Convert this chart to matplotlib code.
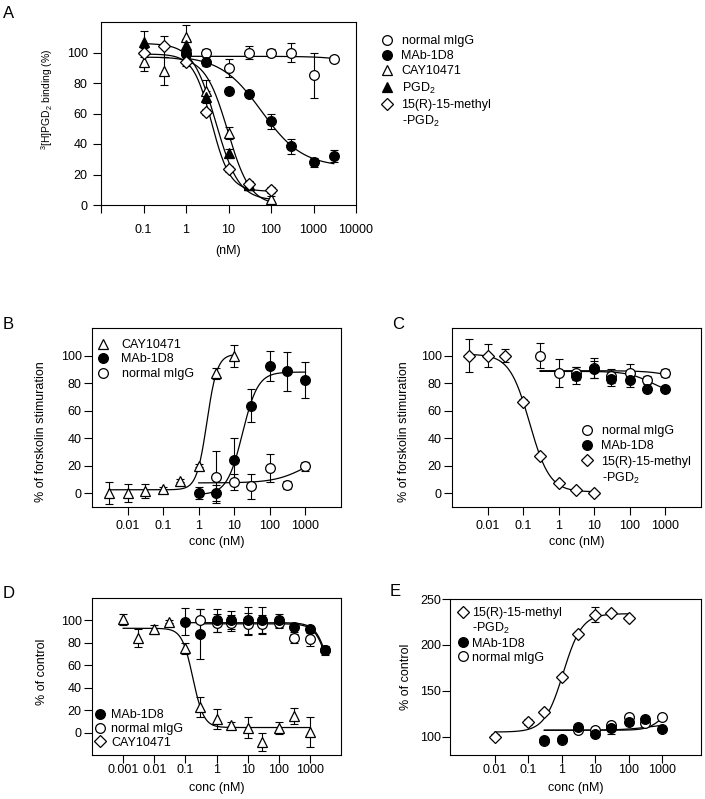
import numpy as np
import matplotlib.pyplot as plt
from matplotlib.lines import Line2D
from matplotlib.ticker import NullLocator

plt.rcParams['font.family'] = ['Liberation Sans', 'DejaVu Sans']
plt.rcParams['mathtext.fontset'] = 'custom'
plt.rcParams['mathtext.rm'] = 'Liberation Sans'
plt.rcParams['mathtext.it'] = 'Liberation Sans:italic'
plt.rcParams['mathtext.default'] = 'regular'

# ---- panel A: 3H-PGD2 binding ----
a_x_igg = [1, 3, 10, 30, 100, 300, 1000, 3000]
a_y_igg = [100, 100, 90, 100, 100, 100, 85, 96]
a_e_igg = [3, 2, 6, 4, 2, 6, 15, 2]
a_x_mab = [1, 3, 10, 30, 100, 300, 1000, 3000]
a_y_mab = [99, 94, 75, 72.5, 55, 38.5, 28, 32]
a_e_mab = [2, 3, 2, 2, 5, 5, 3, 4]
a_x_cay = [0.1, 0.3, 1, 3, 10, 30, 100]
a_y_cay = [94, 88, 110, 75, 47, 13, 4]
a_e_cay = [6, 9, 8, 7, 4, 3, 2]
a_x_pgd = [0.1, 1, 3, 10, 30]
a_y_pgd = [107, 105, 71, 34, 13]
a_e_pgd = [7, 4, 4, 3, 2]
a_x_met = [0.1, 0.3, 1, 3, 10, 30, 100]
a_y_met = [100, 104, 94, 61, 23.5, 13.5, 10]
a_e_met = [3, 7, 3, 2, 2, 2, 2]

# ---- panel B: forskolin, agonist ----
b_x_cay = [0.003, 0.01, 0.03, 0.1, 0.3, 1, 3, 10]
b_y_cay = [0, 0, 1.5, 3, 9, 20, 87, 100]
b_e_cay = [8, 6.5, 5, 1.5, 1, 1, 4, 8]
b_x_mab = [1, 3, 10, 30, 100, 300, 1000]
b_y_mab = [0, 0, 24, 63.5, 92.5, 88.5, 82.5]
b_e_mab = [4.5, 6, 16, 12, 11, 14, 13]
b_x_igg = [3, 10, 30, 100, 300, 1000]
b_y_igg = [12, 8, 5, 18.5, 6, 19.5]
b_e_igg = [19, 6, 9, 10, 3, 3]

# ---- panel C ----
c_x_met = [0.003, 0.01, 0.03, 0.1, 0.3, 1, 3, 10]
c_y_met = [100, 100, 100, 66.5, 27, 7.5, 2, 0]
c_e_met = [12, 8.5, 5, 2, 1.5, 1, 1, 1]
c_x_igg = [0.3, 1, 3, 10, 30, 100, 300, 1000]
c_y_igg = [100, 87.5, 87, 91, 85, 87.5, 82, 87.5]
c_e_igg = [9, 10, 5, 7, 5, 6, 3, 3]
c_x_mab = [3, 10, 30, 100, 300, 1000]
c_y_mab = [85.5, 90, 83, 82, 75.5, 76]
c_e_mab = [6, 6, 5, 5, 2, 1.5]

# ---- panel D ----
d_x_cay = [0.001, 0.003, 0.01, 0.03, 0.1, 0.3, 1, 3, 10, 30, 100, 300, 1000]
d_y_cay = [101, 84, 92, 99, 75, 22.5, 12, 7, 4.5, -8.5, 4, 15, 0.5]
d_e_cay = [5, 8, 4, 1.5, 5, 9, 9, 2, 9, 8, 5, 7, 13]
d_x_mab = [0.1, 0.3, 1, 3, 10, 30, 100, 300, 1000, 3000]
d_y_mab = [99, 88, 100, 100, 100, 100, 100, 94, 92.5, 73.5]
d_e_mab = [12, 22, 10, 8, 12, 12, 6, 4, 2, 4]
d_x_igg = [0.3, 1, 3, 10, 30, 100, 300, 1000, 3000]
d_y_igg = [100, 98, 98, 97, 97, 98, 84, 83, 74]
d_e_igg = [10, 8, 7, 10, 8, 5, 4, 6, 3]

# ---- panel E ----
e_x_met = [0.01, 0.1, 0.3, 1, 3, 10, 30, 100]
e_y_met = [100, 116, 126.5, 164.5, 211.5, 233, 235, 229.5]
e_e_met = [3, 3, 2, 2, 2, 8, 2, 2]
e_x_mab = [0.3, 1, 3, 10, 30, 100, 300, 1000]
e_y_mab = [96, 97, 111, 103, 109.5, 116.5, 119.5, 108.5]
e_e_mab = [2, 2, 3, 2, 7, 3, 2, 2]
e_x_igg = [0.3, 1, 3, 10, 30, 100, 300, 1000]
e_y_igg = [95, 96, 107.5, 107.5, 113, 121, 115, 121]
e_e_igg = [2, 2, 2, 2, 3, 2, 2, 3]

# fitted 4PL curves: (value at low conc, value at high conc, EC50, hill), conc range
fits = {
    'a_igg': ((97.5, 0, 2e5, 1), (1, 3000)),
    'a_mab': ((98, 25, 60, 0.9), (1, 3000)),
    'a_cay': ((97, 0, 9.6, 1.64), (0.1, 100)),
    'a_pgd': ((106, 3, 5, 1.6), (0.1, 100)),
    'a_met': ((99, 9, 4, 2), (0.1, 100)),
    'b_cay': ((2.5, 101, 1.7, 3), (0.003, 10)),
    'b_mab': ((-1, 88, 17, 2), (1, 1000)),
    'b_igg': ((7.5, 30, 1000, 1), (1, 1000)),
    'c_met': ((101, 1, 0.152, 1.54), (0.003, 10)),
    'c_igg': ((89, 0, 3e4, 1), (0.3, 1000)),
    'c_mab': ((88.5, 72, 400, 1.3), (0.3, 1000)),
    'd_cay': ((93, 4.5, 0.174, 2.48), (0.001, 1000)),
    'd_mab': ((98, 0, 5000, 2), (0.1, 3000)),
    'd_igg': ((97, 0, 4800, 2), (0.3, 3000)),
    'e_met': ((105, 234, 1.105, 1.56), (0.01, 100)),
    'e_mab': ((107, 115, 500, 1), (0.3, 1000)),
    'e_igg': ((107, 133, 1000, 2), (0.3, 1000)),
}

W, H = 705, 799
fig = plt.figure(figsize=(W / 100, H / 100), dpi=100)

def box(l, t, r, b):
    return [l / W, 1 - b / H, (r - l) / W, (b - t) / H]

def logistic(x, y_lo, y_hi, ec50, hill):
    return y_hi + (y_lo - y_hi) / (1 + (x / ec50) ** hill)

styles = {
    'o_open': dict(marker='o', mfc='white', ms=7),
    'o_fill': dict(marker='o', mfc='black', ms=7),
    't_open': dict(marker='^', mfc='white', ms=7),
    't_fill': dict(marker='^', mfc='black', ms=7),
    'diam': dict(marker='D', mfc='white', ms=5.8),
    'none': dict(marker=None),
}

def series(ax, x, y, err, st, key):
    p, rng = fits[key]
    xs = np.logspace(np.log10(rng[0]), np.log10(rng[1]), 300)
    ax.plot(xs, logistic(xs, *p), color='black', lw=0.9, zorder=2)
    ax.errorbar(x, y, yerr=err, fmt='none', ecolor='black', elinewidth=0.8,
                capsize=3, capthick=0.8, zorder=3)
    ax.plot(x, y, ls='none', mec='black', mew=0.9, zorder=4, **styles[st])

def setup(ax, xlim, ylim, xticks, xlabels, yticks, xpad, ypad):
    ax.set_xscale('log')
    ax.set_xlim(xlim)
    ax.set_ylim(ylim)
    ax.set_xticks(xticks)
    ax.set_xticklabels(xlabels)
    ax.xaxis.set_minor_locator(NullLocator())
    ax.set_yticks(yticks)
    ax.tick_params(direction='out', length=5.5, width=0.8, labelsize=9)
    ax.tick_params(axis='x', pad=xpad)
    ax.tick_params(axis='y', pad=ypad)
    for s in ax.spines.values():
        s.set_linewidth(0.8)

def handle(st):
    return Line2D([], [], ls='none', mec='black', mew=0.9, **styles[st])

def legend(ax, items, x, y, hl, pad, ls):
    ax.legend([handle(s) for s, _ in items], [t for _, t in items],
              loc='upper left', bbox_to_anchor=(x / W, 1 - y / H),
              bbox_transform=fig.transFigure, frameon=False, fontsize=9,
              handlelength=hl, handletextpad=pad, labelspacing=ls,
              borderpad=0, borderaxespad=0, numpoints=1)

pgd2 = 'PGD$_2$'
met = [('diam', '15(R)-15-methyl'), ('none', '-PGD$_2$')]

# A
ax = fig.add_axes(box(101, 22, 356, 205))
series(ax, a_x_igg, a_y_igg, a_e_igg, 'o_open', 'a_igg')
series(ax, a_x_mab, a_y_mab, a_e_mab, 'o_fill', 'a_mab')
series(ax, a_x_cay, a_y_cay, a_e_cay, 't_open', 'a_cay')
series(ax, a_x_pgd, a_y_pgd, a_e_pgd, 't_fill', 'a_pgd')
series(ax, a_x_met, a_y_met, a_e_met, 'diam', 'a_met')
setup(ax, (0.01, 10000), (0, 120), [0.01, 0.1, 1, 10, 100, 1000, 10000],
      ['', '0.1', '1', '10', '100', '1000', '10000'], [0, 20, 40, 60, 80, 100], 8, 4)
ax.set_xlabel('(nM)', fontsize=9, labelpad=7)
ax.set_ylabel('$^3$[H]PGD$_2$ binding (%)', fontsize=7.5)
ax.yaxis.set_label_coords(-0.18, 0.58)
legend(ax, [('o_open', 'normal mIgG'), ('o_fill', 'MAb-1D8'), ('t_open', 'CAY10471'),
            ('t_fill', pgd2)] + met, 381, 35, 1.0, 0.64, 0.26)

# B
ax = fig.add_axes(box(92, 328, 341, 507))
series(ax, b_x_cay, b_y_cay, b_e_cay, 't_open', 'b_cay')
series(ax, b_x_mab, b_y_mab, b_e_mab, 'o_fill', 'b_mab')
series(ax, b_x_igg, b_y_igg, b_e_igg, 'o_open', 'b_igg')
setup(ax, (0.001, 10000), (-10, 120), [0.01, 0.1, 1, 10, 100, 1000],
      ['0.01', '0.1', '1', '10', '100', '1000'], [0, 20, 40, 60, 80, 100], 4, 2)
ax.set_xlabel('conc (nM)', fontsize=9, labelpad=3)
ax.set_ylabel('% of forskolin stimuration', fontsize=9)
ax.yaxis.set_label_coords(-0.18, 0.42)
legend(ax, [('t_open', 'CAY10471'), ('o_fill', 'MAb-1D8'), ('o_open', 'normal mIgG')],
       96.5, 339, 1.0, 1.0, 0.2)

# C
ax = fig.add_axes(box(452, 328, 701, 507))
series(ax, c_x_met, c_y_met, c_e_met, 'diam', 'c_met')
series(ax, c_x_igg, c_y_igg, c_e_igg, 'o_open', 'c_igg')
series(ax, c_x_mab, c_y_mab, c_e_mab, 'o_fill', 'c_mab')
setup(ax, (0.001, 10000), (-10, 120), [0.01, 0.1, 1, 10, 100, 1000],
      ['0.01', '0.1', '1', '10', '100', '1000'], [0, 20, 40, 60, 80, 100], 4, 2)
ax.set_xlabel('conc (nM)', fontsize=9, labelpad=3)
ax.set_ylabel('% of forskolin stimuration', fontsize=9)
ax.yaxis.set_label_coords(-0.169, 0.42)
legend(ax, [('o_open', 'normal mIgG'), ('o_fill', 'MAb-1D8')] + met,
       581, 425, 1.0, 0.64, 0.26)

# D
ax = fig.add_axes(box(92, 598, 341, 755))
series(ax, d_x_cay, d_y_cay, d_e_cay, 't_open', 'd_cay')
series(ax, d_x_igg, d_y_igg, d_e_igg, 'o_open', 'd_igg')
series(ax, d_x_mab, d_y_mab, d_e_mab, 'o_fill', 'd_mab')
setup(ax, (0.0001, 10000), (-20, 120), [0.001, 0.01, 0.1, 1, 10, 100, 1000],
      ['0.001', '0.01', '0.1', '1', '10', '100', '1000'], [0, 20, 40, 60, 80, 100], 1, 2)
ax.set_xlabel('conc (nM)', fontsize=9, labelpad=4)
ax.set_ylabel('% of control', fontsize=9)
ax.yaxis.set_label_coords(-0.177, 0.53)
legend(ax, [('o_fill', 'MAb-1D8'), ('o_open', 'normal mIgG'), ('diam', 'CAY10471')],
       94.7, 709, 0.8, 0.5, 0.15)

# E
ax = fig.add_axes(box(450, 599, 701, 755))
series(ax, e_x_met, e_y_met, e_e_met, 'diam', 'e_met')
series(ax, e_x_igg, e_y_igg, e_e_igg, 'o_open', 'e_igg')
series(ax, e_x_mab, e_y_mab, e_e_mab, 'o_fill', 'e_mab')
setup(ax, (4.5e-4, 1.47e4), (80, 250), [0.01, 0.1, 1, 10, 100, 1000],
      ['0.01', '0.1', '1', '10', '100', '1000'], [100, 150, 200, 250], 1, 1)
ax.set_xlabel('conc (nM)', fontsize=9, labelpad=4)
ax.set_ylabel('% of control', fontsize=9)
ax.yaxis.set_label_coords(-0.151, 0.5)
legend(ax, met + [('o_fill', 'MAb-1D8'), ('o_open', 'normal mIgG')],
       457.7, 607, 0.8, 0.36, 0.15)

for lab, x, y in [('A', 3, 18), ('B', 3, 329), ('C', 392, 329), ('D', 3, 598), ('E', 390, 596)]:
    fig.text(x / W, 1 - y / H, lab, fontsize=12)

fig.savefig('out.png', dpi=100)
